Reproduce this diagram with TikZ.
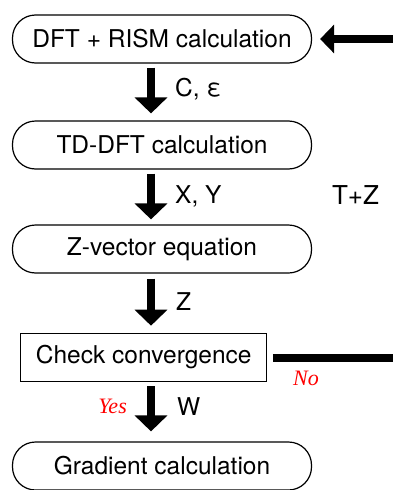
\documentclass[tikz,border=0pt]{standalone}
\usepackage{fontspec}
\setmainfont{TeX Gyre Heros}
\newfontfamily\yesnofont{Liberation Serif}
\usetikzlibrary{arrows.meta}
\begin{document}
\begin{tikzpicture}[x=1pt,y=-1pt,
  stadium/.style={draw,line width=1.2pt,rounded corners=23pt,minimum width=299pt,minimum height=48pt,inner sep=0pt,font=\fontsize{24.5}{28}\selectfont},
  checkbox/.style={draw,line width=1.2pt,minimum width=246pt,minimum height=48.4pt,inner sep=0pt,font=\fontsize{24.5}{28}\selectfont},
  bigarrow/.style={line width=8pt,-{Triangle[width=32pt,length=16pt]}},
  sidearrow/.style={line width=8pt,-{Triangle[width=28pt,length=14pt]}},
  lbl/.style={anchor=base west,inner sep=0pt,font=\fontsize{24.5}{28}\selectfont},
  yn/.style={inner sep=0pt,text=red,font=\yesnofont\itshape\fontsize{22}{26}\selectfont}]
\useasboundingbox (0,0) rectangle (393,490);
\node[stadium] (b1) at (162,39) {DFT + RISM calculation};
\node[stadium] (b2) at (162,145) {TD-DFT calculation};
\node[stadium] (b3) at (162,249) {Z-vector equation};
\node[checkbox] (chk) at (143.7,357.5) {Check convergence};
\node[stadium] (b5) at (162,466) {Gradient calculation};
\coordinate (inR) at (393,39);
\coordinate (outR) at (393,357.5);
\draw[bigarrow,shorten <=4pt,shorten >=7pt] (b1.south -| 151,0) -- (b2.north -| 151,0);
\draw[bigarrow,shorten <=4pt,shorten >=5pt] (b2.south -| 151,0) -- (b3.north -| 151,0);
\draw[bigarrow,shorten <=5pt,shorten >=7pt] (b3.south -| 151,0) -- (chk.north -| 151,0);
\draw[bigarrow,shorten <=4pt,shorten >=10pt] (chk.south -| 151,0) -- (b5.north -| 151,0);
\draw[sidearrow,shorten >=8pt] (inR) -- (b1.east);
\draw[line width=8pt,shorten <=5.6pt] (chk.east) -- (outR);
\node[lbl] (l1) at (175,96.5) {C, ε};
\node[lbl] (l2) at (175,203.5) {X, Y};
\node[anchor=base,inner sep=0pt,font=\fontsize{26}{30}\selectfont] (l3) at (355.5,204) {T+Z};
\node[lbl] (l4) at (176,310) {Z};
\node[lbl] (l5) at (177,415) {W};
\node[yn,anchor=east] (yes) at (127,406) {Yes};
\node[yn] (no) at (306,378) {No};
\end{tikzpicture}
\end{document}
